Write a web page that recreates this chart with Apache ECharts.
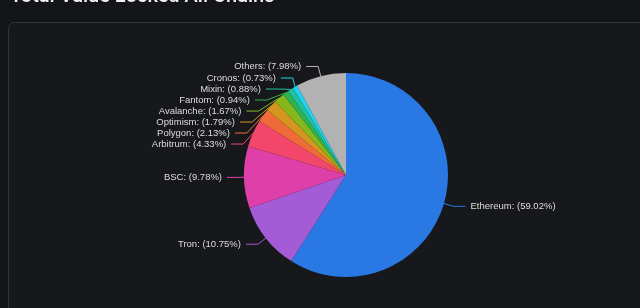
<!DOCTYPE html>
<html><head><meta charset="utf-8">
<script src="https://cdn.jsdelivr.net/npm/echarts@6/dist/echarts.min.js"></script>
<style>html,body{margin:0;padding:0;background:#141519;}#c{width:640px;height:308px;}</style>
</head><body><div id="c"></div>
<script>
const categories = ['Ethereum','Tron','BSC','Arbitrum','Polygon','Optimism','Avalanche','Fantom','Mixin','Cronos','Others'];
const values = [59.02,10.75,9.78,4.33,2.13,1.79,1.67,0.94,0.88,0.73,7.98];
const colors = ['#2a78e4','#a45bd6','#de3fa8','#f2466a','#ef6b3a','#d4961e','#86b81e','#2fb24f','#1fc19f','#1fd3f2','#b2b2b2'];
const title = 'Total Value Locked All Chains';

const chart = echarts.init(document.getElementById('c'));
chart.setOption({
  backgroundColor: '#141519',
  animation: false,
  graphic: [
    {type:'rect', shape:{x:8.5,y:22.5,width:660,height:320,r:6}, style:{fill:'#17181c',stroke:'#34353a',lineWidth:1}, z:-10},
    {type:'text', left:10, top:-13, style:{text:title, fill:'#f0f0f0', font:'500 20px Roboto'}}
  ],
  series: [{
    type: 'pie',
    center: [346,175],
    radius: [0,102],
    startAngle: 90,
    clockwise: true,
    data: categories.map((n,i)=>({name:n, value:values[i], itemStyle:{color:colors[i]}})),
    label: {color:'#dddddd', fontSize:9.5, lineHeight:11, minMargin:0, fontFamily:'Arial', formatter: p => p.name + ': (' + p.value.toFixed(2) + '%)'},
    labelLine: {length:10, length2:12, lineStyle:{width:1}},
    itemStyle: {borderWidth:0}
  }]
});
</script></body></html>
